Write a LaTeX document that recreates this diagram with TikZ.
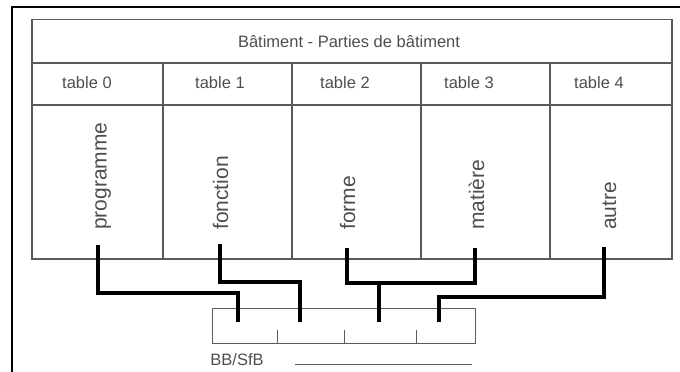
\documentclass[tikz,border=0pt]{standalone}
\usepackage{fontspec}
\setmainfont{Liberation Sans}
\definecolor{tablegray}{HTML}{5A5A5A}
\definecolor{txtgray}{HTML}{4E4E4E}
\begin{document}
\begin{tikzpicture}[x=1pt,y=-1pt,
  cell/.style={draw=tablegray, line width=1.1pt, inner sep=0pt, outer sep=0pt, anchor=north west},
  lbl/.style={text=txtgray, inner sep=0pt, font=\fontsize{16.5}{19}\selectfont, anchor=base},
  vlbl/.style={text=txtgray, inner sep=0pt, font=\fontsize{21}{24}\selectfont, rotate=90, anchor=base west},
  link/.style={line width=4pt, line join=miter, draw=black},
  frame/.style={line width=2.5pt, draw=black}]
\useasboundingbox (0,0) rectangle (680,372);
% outer frame
\coordinate (fa) at (12,372);
\coordinate (fb) at (12,7);
\coordinate (fc) at (680,7);
\draw[frame] (fa) -- (fb) -- (fc);
% table cells
\node[cell, minimum width=640pt, minimum height=43.5pt] (title) at (32,19.5) {};
\node[cell, minimum width=131pt, minimum height=42pt] (h0) at (32,63) {};
\node[cell, minimum width=129pt, minimum height=42pt] (h1) at (163,63) {};
\node[cell, minimum width=129pt, minimum height=42pt] (h2) at (292,63) {};
\node[cell, minimum width=129pt, minimum height=42pt] (h3) at (421,63) {};
\node[cell, minimum width=122pt, minimum height=42pt] (h4) at (550,63) {};
\node[cell, minimum width=131pt, minimum height=154pt] (b0) at (32,105) {};
\node[cell, minimum width=129pt, minimum height=154pt] (b1) at (163,105) {};
\node[cell, minimum width=129pt, minimum height=154pt] (b2) at (292,105) {};
\node[cell, minimum width=129pt, minimum height=154pt] (b3) at (421,105) {};
\node[cell, minimum width=122pt, minimum height=154pt] (b4) at (550,105) {};
% labels
\node[lbl] (tt) at (349,47) {Bâtiment - Parties de bâtiment};
\node[lbl] (t0) at (87,88) {table 0};
\node[lbl] (t1) at (220,88) {table 1};
\node[lbl] (t2) at (345,88) {table 2};
\node[lbl] (t3) at (469,88) {table 3};
\node[lbl] (t4) at (599,88) {table 4};
\node[vlbl] (v0) at (106.5,230) {programme};
\node[vlbl] (v1) at (228,230) {fonction};
\node[vlbl] (v2) at (355,230) {forme};
\node[vlbl] (v3) at (484,230) {matière};
\node[vlbl] (v4) at (616,230) {autre};
% BB/SfB box
\node[cell, draw=tablegray, line width=1pt, minimum width=263pt, minimum height=35pt] (bb) at (212,308) {};
\draw[tablegray, line width=1pt] (277,330) -- (277,343);
\draw[tablegray, line width=1pt] (344,330) -- (344,343);
\draw[tablegray, line width=1pt] (416,330) -- (416,343);
\node[lbl, anchor=base] (bbl) at (237,365) {BB/SfB};
\coordinate (la) at (295,364);
\coordinate (lb) at (472,364);
\draw[tablegray, line width=1pt] (la) -- (lb);
% connector points
\coordinate (p0) at (98,245);
\coordinate (k0) at (238,293);
\coordinate (s0) at (238,322);
\coordinate (p1) at (219.5,244);
\coordinate (k1) at (300,282);
\coordinate (s1) at (300,322);
\coordinate (p2) at (347,248);
\coordinate (k2) at (475,283);
\coordinate (p3) at (475,248);
\coordinate (j2) at (379,283);
\coordinate (s2) at (379,322);
\coordinate (p4) at (604,247);
\coordinate (k4) at (439,297);
\coordinate (s4) at (439,322);
% connectors
\draw[link] (p0) |- (k0) -- (s0);
\draw[link] (p1) |- (k1) -- (s1);
\draw[link] (p2) |- (k2) -- (p3);
\draw[link] (j2) -- (s2);
\draw[link] (p4) |- (k4) -- (s4);
\end{tikzpicture}
\end{document}
